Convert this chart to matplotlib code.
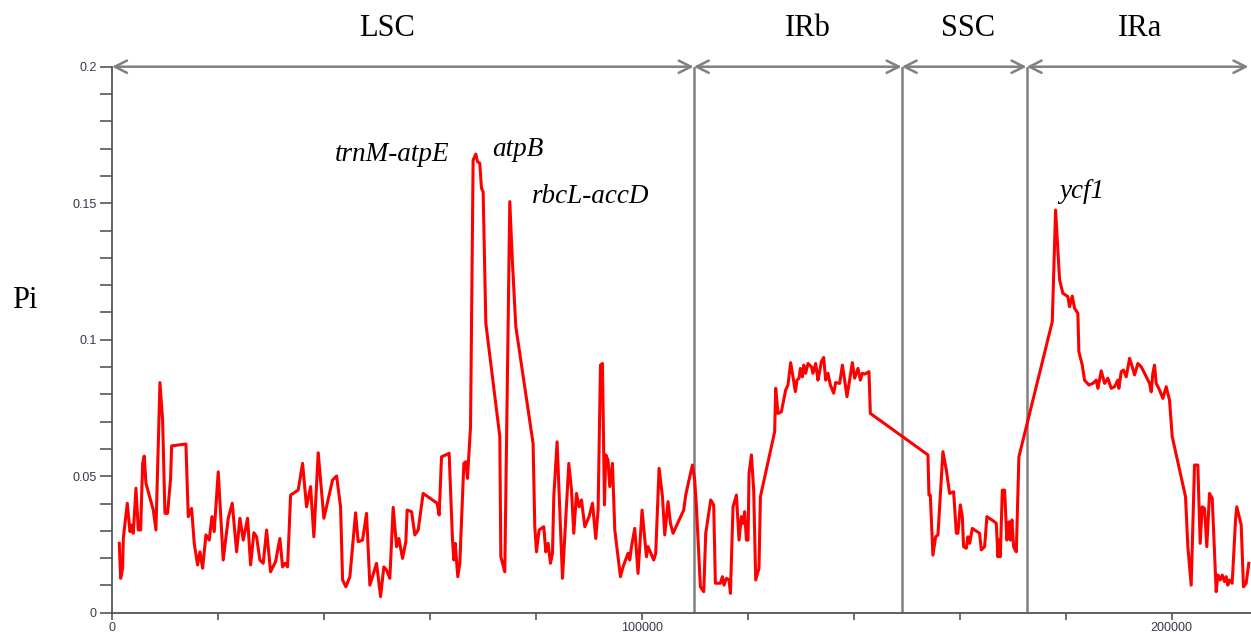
import matplotlib
matplotlib.use('Agg')
import matplotlib.pyplot as plt
from matplotlib.ticker import MultipleLocator, FuncFormatter

# sliding-window nucleotide diversity (position in bp, Pi)
pos = [1380, 1640, 2010, 2140, 2890, 3400, 3710, 4020, 4530, 4970, 5410, 5790, 6090, 6420,
       7800, 8300, 9060, 9560, 10000, 10500, 11070, 11260, 13960, 14400, 15030, 15530, 16160,
       16600, 17110, 17740, 18360, 18870, 19300, 20060, 21000, 21950, 22700, 23530, 24150,
       24780, 25600, 26170, 26790, 27300, 27920, 28550, 29190, 29940, 30880, 31700, 32200,
       32700, 33150, 33720, 35150, 35980, 36730, 37490, 38110, 38930, 40000, 41640, 42400,
       43150, 43530, 44150, 44910, 45410, 45980, 46470, 47300, 48050, 48680, 49940, 50700,
       51320, 51830, 52450, 53080, 53720, 54150, 54850, 55470, 55720, 56550, 57170, 57800,
       58740, 61380, 61760, 62210, 63640, 64280, 64530, 64780, 65280, 65660, 66420, 66790,
       67110, 67680, 68170, 68680, 69000, 69430, 69750, 70060, 70570, 73210, 73400, 74150,
       74590, 75090, 75600, 76230, 79490, 79810, 80130, 80620, 81510, 81890, 82320, 82770,
       83150, 83400, 84020, 85040, 86230, 86740, 87170, 87680, 88170, 88620, 89250, 90060,
       90700, 91320, 91760, 92210, 92580, 92960, 93210, 93640, 93960, 94470, 94910, 95980,
       96470, 97420, 97740, 98060, 98680, 99300, 100060, 100890, 101190, 102260, 102640,
       103270, 103910, 104340, 104960, 105420, 105910, 107920, 108300, 108920, 109570,
       110000, 110320, 111070, 111700, 112080, 113020, 113580, 113900, 114850, 115220,
       115530, 115980, 116470, 116740, 117230, 117870, 118360, 118810, 119120, 119430,
       119750, 120060, 120250, 120700, 121130, 121510, 122130, 122400, 125090, 125280,
       125720, 126350, 127170, 127600, 128110, 129000, 129300, 129680, 129940, 130320,
       130570, 130940, 131380, 132020, 132320, 132830, 133260, 133580, 133900, 134340,
       134720, 135150, 135600, 136230, 136600, 137360, 137870, 138300, 138740, 139750,
       140190, 140810, 141260, 141640, 142080, 142890, 143150, 154020, 154210, 154470,
       154960, 155470, 155910, 156850, 157490, 158110, 158870, 159380, 159680, 160130,
       160510, 160750, 161260, 161570, 161890, 162400, 162830, 163770, 164090, 164720,
       165150, 166600, 166920, 167230, 167420, 167680, 168060, 168490, 168920, 169300,
       169570, 169870, 170190, 170700, 171190, 177490, 178110, 178870, 179490, 180430,
       180750, 181260, 181700, 182320, 182510, 183150, 183580, 184400, 185150, 185790,
       186100, 186730, 187360, 187980, 188620, 189250, 189870, 190060, 190510, 190940,
       191450, 192080, 192580, 193020, 193640, 194280, 194910, 195530, 195850, 196170,
       196470, 196790, 197110, 197740, 198360, 198990, 199620, 200130, 202640, 203080,
       203710, 204340, 204960, 205410, 205790, 206230, 206660, 207170, 207680, 208430,
       208740, 209190, 209570, 210000, 210320, 210620, 210940, 211450, 212080, 212320,
       213150, 213580, 214090, 214580]
pi = [0.0254, 0.0126, 0.0163, 0.0272, 0.0401, 0.0297, 0.0321, 0.0291, 0.0456, 0.0303, 0.0303,
      0.0547, 0.0574, 0.0474, 0.0376, 0.0303, 0.0843, 0.0706, 0.0364, 0.0364, 0.0492, 0.0611,
      0.0618, 0.0352, 0.0382, 0.0254, 0.0175, 0.0223, 0.0163, 0.0285, 0.0266, 0.0352, 0.0297,
      0.0516, 0.0193, 0.0346, 0.0401, 0.0223, 0.0346, 0.0266, 0.0346, 0.0175, 0.0293, 0.0278,
      0.0193, 0.0181, 0.0303, 0.0150, 0.0187, 0.0272, 0.0168, 0.0181, 0.0168, 0.0431, 0.0449,
      0.0547, 0.0388, 0.0462, 0.0278, 0.0586, 0.0346, 0.0486, 0.0501, 0.0388, 0.0120, 0.0095,
      0.0132, 0.0242, 0.0366, 0.0260, 0.0266, 0.0364, 0.0101, 0.0181, 0.0059, 0.0168, 0.0156,
      0.0126, 0.0386, 0.0242, 0.0272, 0.0199, 0.0260, 0.0376, 0.0370, 0.0285, 0.0303, 0.0437,
      0.0401, 0.0358, 0.0571, 0.0584, 0.0266, 0.0193, 0.0254, 0.0132, 0.0181, 0.0547, 0.0553,
      0.0492, 0.0681, 0.1658, 0.1680, 0.1652, 0.1646, 0.1555, 0.1542, 0.1060, 0.0645, 0.0205,
      0.0150, 0.0791, 0.1506, 0.1280, 0.1048, 0.0620, 0.0315, 0.0223, 0.0303, 0.0315, 0.0223,
      0.0254, 0.0181, 0.0218, 0.0425, 0.0626, 0.0126, 0.0547, 0.0449, 0.0291, 0.0437, 0.0388,
      0.0413, 0.0315, 0.0352, 0.0401, 0.0272, 0.0376, 0.0907, 0.0913, 0.0395, 0.0578, 0.0559,
      0.0462, 0.0547, 0.0303, 0.0132, 0.0168, 0.0218, 0.0193, 0.0242, 0.0309, 0.0144, 0.0376,
      0.0205, 0.0242, 0.0193, 0.0218, 0.0529, 0.0425, 0.0285, 0.0407, 0.0327, 0.0291, 0.0376,
      0.0431, 0.0486, 0.0541, 0.0486, 0.0388, 0.0095, 0.0077, 0.0291, 0.0413, 0.0395, 0.0108,
      0.0108, 0.0132, 0.0101, 0.0126, 0.0120, 0.0071, 0.0388, 0.0431, 0.0266, 0.0352, 0.0327,
      0.0370, 0.0266, 0.0266, 0.0511, 0.0578, 0.0449, 0.0120, 0.0163, 0.0425, 0.0663, 0.0822,
      0.0730, 0.0736, 0.0816, 0.0834, 0.0916, 0.0810, 0.0852, 0.0859, 0.0895, 0.0864, 0.0907,
      0.0877, 0.0913, 0.0901, 0.0877, 0.0913, 0.0852, 0.0883, 0.0919, 0.0935, 0.0852, 0.0877,
      0.0834, 0.0804, 0.0843, 0.0840, 0.0907, 0.0852, 0.0791, 0.0916, 0.0859, 0.0895, 0.0852,
      0.0877, 0.0874, 0.0883, 0.0730, 0.0578, 0.0431, 0.0431, 0.0211, 0.0278, 0.0285, 0.0590,
      0.0523, 0.0437, 0.0443, 0.0291, 0.0291, 0.0395, 0.0352, 0.0242, 0.0236, 0.0278, 0.0254,
      0.0309, 0.0303, 0.0291, 0.0230, 0.0242, 0.0352, 0.0333, 0.0327, 0.0205, 0.0266, 0.0205,
      0.0449, 0.0449, 0.0266, 0.0333, 0.0266, 0.0340, 0.0242, 0.0223, 0.0571, 0.1066, 0.1475,
      0.1219, 0.1170, 0.1158, 0.1121, 0.1160, 0.1115, 0.1097, 0.0956, 0.0907, 0.0852, 0.0834,
      0.0840, 0.0852, 0.0822, 0.0886, 0.0840, 0.0859, 0.0822, 0.0828, 0.0852, 0.0822, 0.0883,
      0.0889, 0.0864, 0.0932, 0.0901, 0.0871, 0.0913, 0.0901, 0.0877, 0.0852, 0.0840, 0.0809,
      0.0877, 0.0907, 0.0840, 0.0816, 0.0785, 0.0828, 0.0779, 0.0645, 0.0425, 0.0242, 0.0101,
      0.0541, 0.0541, 0.0254, 0.0388, 0.0382, 0.0242, 0.0437, 0.0419, 0.0077, 0.0138, 0.0120,
      0.0138, 0.0114, 0.0132, 0.0101, 0.0120, 0.0108, 0.0340, 0.0388, 0.0321, 0.0095, 0.0108,
      0.0181]

# region borders and labels
regions = ['LSC', 'IRb', 'SSC', 'IRa']
borders = [0, 109810, 149060, 172640, 214530]
region_x = [52000, 131300, 161500, 194000]

genes = ['trnM-atpE', 'atpB', 'rbcL-accD', 'ycf1']
gene_x = [52800, 76600, 90400, 183000]
gene_y = [0.1680, 0.1697, 0.1523, 0.1542]

GRAY = '#808080'
AX = '#555555'
TICKTXT = '#333a4a'

fig = plt.figure(figsize=(12.51, 6.36), dpi=100)
ax = fig.add_axes([0.0895, 0.0366, 0.9105, 0.8585])

ax.plot(pos, pi, color='#ff0000', lw=2.2, zorder=3)

for b in borders[1:-1]:
    ax.axvline(b, color=GRAY, lw=1.8, zorder=2)
for i in range(len(regions)):
    ax.annotate('', xy=(borders[i], 0.2), xytext=(borders[i + 1], 0.2),
                arrowprops=dict(arrowstyle='<->', color=GRAY, lw=1.8,
                                shrinkA=0, shrinkB=0, mutation_scale=22),
                annotation_clip=False, zorder=4)
    ax.text(region_x[i], 1.07, regions[i], transform=ax.get_xaxis_transform(),
            ha='center', va='center', fontsize=22, family='Liberation Serif')

for g, gx, gy in zip(genes, gene_x, gene_y):
    ax.text(gx, gy, g, ha='center', va='center', fontsize=19.5,
            family='Liberation Serif', style='italic')

fig.text(0.02, 0.528, 'Pi', ha='center', va='center', fontsize=22, family='Liberation Serif')

ax.set_xlim(0, 215000)
ax.set_ylim(0, 0.2)
ax.xaxis.set_major_locator(MultipleLocator(20000))
ax.xaxis.set_major_formatter(FuncFormatter(lambda v, _: f'{int(v)}' if v % 100000 == 0 else ''))
ax.yaxis.set_major_locator(MultipleLocator(0.05))
ax.yaxis.set_minor_locator(MultipleLocator(0.01))
ax.yaxis.set_major_formatter(FuncFormatter(lambda v, _: f'{v:g}'))

for s in ['top', 'right']:
    ax.spines[s].set_visible(False)
for s in ['left', 'bottom']:
    ax.spines[s].set_color(AX)
    ax.spines[s].set_linewidth(1.3)
ax.tick_params(axis='y', which='both', length=9, width=1.2, color=AX, labelsize=9,
               labelcolor=TICKTXT, pad=2)
ax.tick_params(axis='x', length=5, width=1.2, color=AX, labelsize=9,
               labelcolor=TICKTXT, pad=2)
for t in ax.get_xticklabels() + ax.get_yticklabels():
    t.set_family('Liberation Sans')

fig.savefig('out.png', dpi=100)
